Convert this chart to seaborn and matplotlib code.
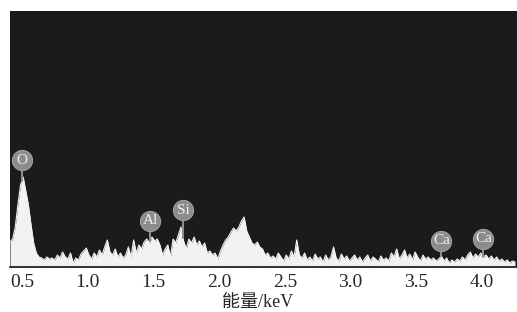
import matplotlib
matplotlib.use("Agg")
import matplotlib.pyplot as plt
import seaborn as sns
import numpy as np

# EDS spectrum, counts (arbitrary units)
energy = np.round(np.linspace(0.41, 4.25, 193), 2)
counts = [
    25, 28, 40, 62, 82, 90, 76, 62, 42, 24, 14, 10, 9, 7, 10,
    8, 9, 7, 12, 9, 15, 10, 8, 14, 4, 9, 7, 13, 16, 19,
    12, 8, 14, 10, 17, 12, 20, 27, 15, 12, 18, 10, 14, 9, 12,
    20, 10, 27, 14, 22, 18, 25, 28, 24, 30, 26, 28, 22, 12, 18,
    22, 10, 28, 24, 32, 40, 26, 18, 28, 24, 30, 22, 26, 20, 24,
    14, 16, 12, 14, 8, 16, 22, 27, 30, 35, 39, 36, 40, 46, 50,
    36, 30, 24, 22, 25, 20, 18, 12, 14, 9, 11, 8, 14, 10, 6,
    12, 8, 16, 10, 27, 12, 9, 14, 7, 10, 6, 13, 8, 10, 5,
    12, 7, 10, 20, 9, 6, 13, 8, 11, 6, 9, 12, 7, 10, 5,
    9, 12, 6, 10, 8, 5, 11, 7, 9, 6, 14, 10, 18, 8, 12,
    17, 9, 13, 7, 15, 10, 6, 12, 8, 10, 7, 9, 6, 8, 11,
    6, 9, 4, 7, 5, 8, 6, 10, 7, 12, 15, 9, 13, 10, 14,
    10, 12, 8, 11, 7, 10, 6, 8, 5, 7, 4, 6, 5,
]

# element markers
elements = ["O", "Al", "Si", "Ca", "Ca"]
element_energy = [0.50, 1.475, 1.725, 3.69, 4.01]
element_height = [107, 46, 57, 26, 28]

sns.set_style("white")
plt.rcParams['font.family'] = ['Liberation Serif', 'Noto Sans CJK SC']

fig = plt.figure(figsize=(5.17, 3.12), dpi=100)
ax = fig.add_axes([10 / 517, 45 / 312, 507 / 517, 256 / 312])
ax.set_facecolor("#1b1b1b")

ax.fill_between(energy, 0, counts, color="#f2f2f2", lw=0)
sns.lineplot(x=energy, y=counts, color="#f2f2f2", lw=0.8, ax=ax)

for name, e, h in zip(elements, element_energy, element_height):
    base = np.interp(e, energy, counts)
    ax.plot([e, e], [base, h], color="#8c8c8c", lw=1.5, zorder=3)
    ax.scatter([e], [h], s=210, color="#8c8c8c", edgecolor="#a0a0a0",
               lw=0.8, zorder=4)
    ax.text(e, h, name, color="#f0f0f0", fontsize=11, ha="center",
            va="center", zorder=5)

ax.set_xlim(0.41, 4.265)
ax.set_ylim(0, 256)
ax.set_yticks([])
ax.set_xticks([0.5, 1.0, 1.5, 2.0, 2.5, 3.0, 3.5, 4.0])
ax.set_xticklabels(["0.5", "1.0", "1.5", "2.0", "2.5", "3.0", "3.5", "4.0"])
ax.set_xticks(np.round(np.arange(0.5, 4.25, 0.1), 1), minor=True)
ax.tick_params(axis="x", which="major", direction="in", length=5, width=1,
               color="#222222", labelsize=14, pad=5, bottom=True)
ax.tick_params(axis="x", which="minor", direction="in", length=3, width=0.8,
               color="#222222", bottom=True)
for side in ["top", "left", "right"]:
    ax.spines[side].set_visible(False)
ax.spines["bottom"].set_color("#111111")
ax.spines["bottom"].set_linewidth(1.2)

ax.set_xlabel("能量/keV", fontsize=13, labelpad=2)
ax.xaxis.label.set_x(0.488)

fig.savefig("out.png", dpi=100)
